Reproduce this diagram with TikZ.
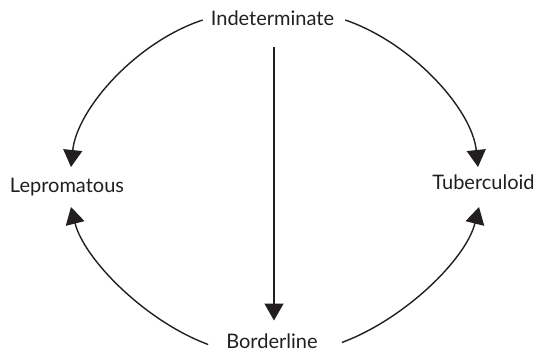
\documentclass[tikz,border=0pt]{standalone}
\usepackage{fontspec}
\setmainfont{Lato}
\usetikzlibrary{arrows.meta,calc}
\definecolor{ink}{HTML}{231F20}
\tikzset{
  lbl/.style={inner sep=0pt, anchor=base, font=\fontsize{20}{23}\selectfont, text=ink},
  arr/.style={draw=ink, line width=1.4pt, -{Triangle[width=19pt,length=17pt]}}
}
\begin{document}
\begin{tikzpicture}[x=1pt,y=-1pt]
\path[use as bounding box] (0,0) rectangle (536,353);
\node[lbl] (ind) at (272.5,26) {Indeterminate};
\node[lbl] (lep) at (67,192) {Lepromatous};
\node[lbl] (tub) at (483.5,189) {Tuberculoid};
\node[lbl] (bor) at (272,348.5) {Borderline};
\draw[arr] ($(ind.base west)+(-8,-6)$) .. controls (136,42) and (77,109) .. ($(lep.base)+(4,-25)$);
\draw[arr] ($(ind.base east)+(11,-6)$) .. controls (412,43) and (472,109) .. ($(tub.base)+(-5.5,-22)$);
\draw[arr] ($(ind.base)+(1.5,21)$) -- ($(bor.base)+(2,-28)$);
\draw[arr] ($(bor.base west)+(-18,-4)$) .. controls (145,321) and (84,259) .. ($(lep.base)+(4,15)$);
\draw[arr] ($(bor.base east)+(24,-6)$) .. controls (405,319) and (466,259) .. ($(tub.base)+(-4.5,18)$);
\end{tikzpicture}
\end{document}
